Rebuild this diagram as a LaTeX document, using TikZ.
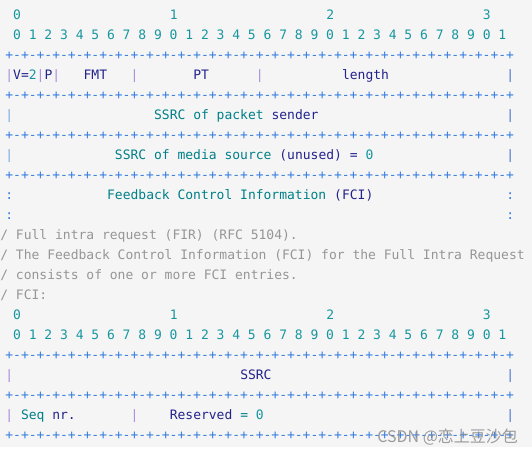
\documentclass[tikz,border=0pt]{standalone}
\usepackage{fontspec}
\usepackage{tikz}
\newfontfamily\codefont{DejaVu Sans Mono}
\newfontfamily\cjkfont{Noto Sans CJK SC}
\definecolor{codebg}{RGB}{245,245,245}
\definecolor{numteal}{RGB}{23,150,160}
\definecolor{kwteal}{RGB}{0,128,135}
\definecolor{navy}{RGB}{35,35,140}
\definecolor{barlav}{RGB}{170,140,222}
\definecolor{barlight}{RGB}{120,170,225}
\definecolor{barblue}{RGB}{75,115,205}
\definecolor{lineblue}{RGB}{55,125,225}
\definecolor{cmtgray}{RGB}{150,150,150}
\definecolor{wmgray}{RGB}{140,140,140}
\newcommand{\bitline}{+-+-+-+-+-+-+-+-+-+-+-+-+-+-+-+-+-+-+-+-+-+-+-+-+-+-+-+-+-+-+-+-+}
\newcommand{\bitnums}{0 1 2 3 4 5 6 7 8 9 0 1 2 3 4 5 6 7 8 9 0 1 2 3 4 5 6 7 8 9 0 1}

\begin{document}
\begin{tikzpicture}[x=5.8725pt, y=-15pt,
    tok/.style={font=\codefont\fontsize{9.75}{12}\selectfont, inner sep=0pt, anchor=base west, yshift=-3.5pt},
    num/.style={tok, text=numteal}, kw/.style={tok, text=kwteal}, nm/.style={tok, text=navy},
    bar/.style={tok, text=barlav}, bline/.style={tok, text=lineblue}, cmt/.style={tok, text=cmtgray}]
    \useasboundingbox (-0.6494,0.25) rectangle (67.294,22.95);
    \fill[codebg] (-0.6494,0.25) rectangle (67.294,22.6);

    % RTCP feedback header
    \node[num] (h0) at (1,1) {0};
    \node[num] (h1) at (21,1) {1};
    \node[num] (h2) at (41,1) {2};
    \node[num] (h3) at (61,1) {3};
    \node[num] (hbits) at (1,2) {\bitnums};
    \node[bline] (l1) at (0,3) {\bitline};

    \node[bar] (b10) at (0,4) {|};
    \node[nm] (ver) at (1,4) {V=};
    \node[num] (vertwo) at (3,4) {2};
    \node[bar] (b14) at (4,4) {|};
    \node[nm] (pad) at (5,4) {P};
    \node[bar] (b16) at (6,4) {|};
    \node[nm] (fmt) at (10,4) {FMT};
    \node[bar] (b116) at (16,4) {|};
    \node[nm] (pt) at (24,4) {PT};
    \node[bar] (b132) at (32,4) {|};
    \node[nm] (len) at (43,4) {length};
    \node[bar, text=barblue] (b164) at (64,4) {|};
    \node[bline] (l2) at (0,5) {\bitline};

    \node[bar, text=barlight] (b20) at (0,6) {|};
    \node[kw] (ssrcp) at (19,6) {SSRC of packet};
    \node[nm] (sender) at (34,6) {sender};
    \node[bar, text=barblue] (b264) at (64,6) {|};
    \node[bline] (l3) at (0,7) {\bitline};

    \node[bar, text=barlight] (b30) at (0,8) {|};
    \node[kw] (ssrcm) at (14,8) {SSRC of media source};
    \node[nm] (unused) at (35,8) {(unused)};
    \node[nm] (eqm) at (44,8) {=};
    \node[num] (zerom) at (46,8) {0};
    \node[bar, text=barblue] (b364) at (64,8) {|};
    \node[bline] (l4) at (0,9) {\bitline};

    \node[bline] (c10) at (0,10) {:};
    \node[kw] (fci) at (13,10) {Feedback Control Information};
    \node[nm] (fcik) at (42,10) {(FCI)};
    \node[bline] (c164) at (64,10) {:};
    \node[bline] (c20) at (0,11) {:};
    \node[bline] (c264) at (64,11) {:};

    % comments
    \node[cmt] (m1) at (-0.64,12) {/ Full intra request (FIR) (RFC 5104).};
    \node[cmt] (m2) at (-0.64,13) {/ The Feedback Control Information (FCI) for the Full Intra Request};
    \node[cmt] (m3) at (-0.64,14) {/ consists of one or more FCI entries.};
    \node[cmt] (m4) at (-0.64,15) {/ FCI:};

    % FCI entry
    \node[num] (f0) at (1,16) {0};
    \node[num] (f1) at (21,16) {1};
    \node[num] (f2) at (41,16) {2};
    \node[num] (f3) at (61,16) {3};
    \node[num] (fbits) at (1,17) {\bitnums};
    \node[bline] (l5) at (0,18) {\bitline};

    \node[bar] (b40) at (0,19) {|};
    \node[nm] (ssrc) at (30,19) {SSRC};
    \node[bar, text=barblue] (b464) at (64,19) {|};
    \node[bline] (l6) at (0,20) {\bitline};

    \node[bar] (b50) at (0,21) {|};
    \node[kw] (seq) at (2,21) {Seq};
    \node[nm] (nr) at (6,21) {nr.};
    \node[bar] (b516) at (16,21) {|};
    \node[nm] (res) at (21,21) {Reserved};
    \node[kw] (eqr) at (30,21) {=};
    \node[num] (zeror) at (32,21) {0};
    \node[bar, text=barblue] (b564) at (64,21) {|};
    \node[bline] (l7) at (0,22) {\bitline};

    \node[font=\cjkfont\fontsize{12}{14}\selectfont, text=wmgray, opacity=0.85, anchor=base west, inner sep=0pt] (wm) at (47.5,22.35) {CSDN @恋上豆沙包};
\end{tikzpicture}
\end{document}
